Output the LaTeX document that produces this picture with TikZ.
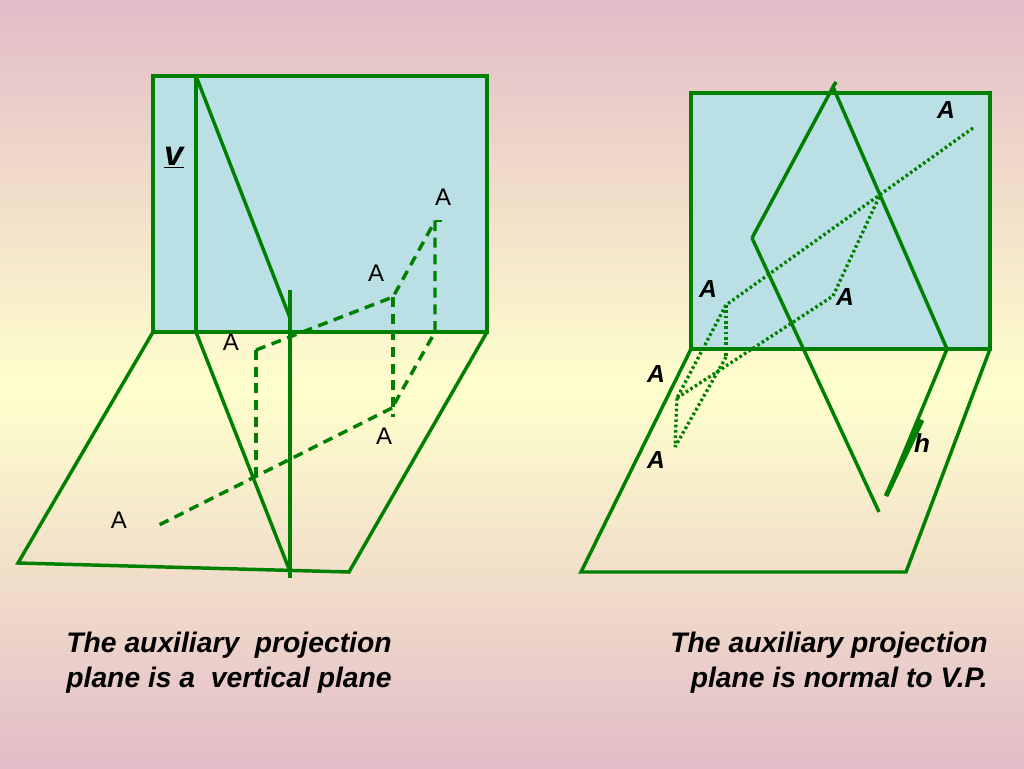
\documentclass[tikz,border=0pt]{standalone}
\usepackage{fontspec}
\setmainfont{Liberation Sans}
\usetikzlibrary{calc}
\definecolor{bgpink}{RGB}{226,188,200}
\definecolor{bgyellow}{RGB}{255,255,204}
\definecolor{ln}{RGB}{0,128,0}
\definecolor{vblue}{RGB}{186,223,228}
\begin{document}
\begin{tikzpicture}[x=0.75pt,y=-0.75pt,
  pl/.style={draw=ln,line width=2.6pt,line join=miter},
  dsh/.style={draw=ln,line width=2.6pt,dash pattern=on 7.5pt off 5pt},
  dtt/.style={draw=ln,line width=2.5pt,dash pattern=on 2pt off 2pt},
  lbl/.style={inner sep=0pt,font=\fontsize{18}{20}\selectfont},
  blbl/.style={inner sep=0pt,font=\fontsize{18.5}{20}\selectfont\bfseries\itshape},
  captxt/.style={inner sep=0pt,font=\fontsize{21.2}{26.25}\selectfont\bfseries\itshape}]
\useasboundingbox (0,0) rectangle (1024,768);
\shade[top color=bgpink,bottom color=bgyellow] (0,0) rectangle (1024,390);
\shade[top color=bgyellow,bottom color=bgpink] (0,390) rectangle (1024,768);
% ---------------- left figure ----------------
\coordinate (a1) at (153,76);
\coordinate (a2) at (487,76);
\coordinate (a3) at (487,332);
\coordinate (a4) at (153,332);
\coordinate (a5) at (18,563);
\coordinate (a6) at (349,572);
\coordinate (b1) at (196,76);
\coordinate (b2) at (196,332);
\coordinate (b3) at (290,318);
\coordinate (b4) at (289,569);
\coordinate (c1) at (290,290);
\coordinate (c2) at (290,578);
\draw[pl,fill=vblue] (a1) rectangle (a3);
\draw[pl] (a4) -- (a5) -- (a6) -- (a3);
\draw[pl] (b1) -- (b2);
\draw[pl] (b1) -- (b3);
\draw[pl] (b2) -- (b4);
\draw[pl] (c1) -- (c2);
% dashed projectors
\coordinate (d1) at (256,350);
\coordinate (d2) at (393,297);
\coordinate (d3) at (435,221);
\coordinate (d3t) at (442,221);
\coordinate (d4) at (435,332);
\coordinate (d5) at (392,408);
\coordinate (d6) at (393,417);
\coordinate (d7) at (155,527);
\coordinate (d8) at (256,477);
\draw[dsh] (d1) -- (d2) -- (d3);
\draw[pl,line width=2.2pt] (d3) -- (d3t);
\draw[dsh] (d3) -- (d4) -- (d5);
\draw[dsh] (d2) -- (d6);
\draw[dsh] (d5) -- (d7);
\draw[dsh] (d1) -- (d8);
\node[lbl] (lA1) at (443,197) {A};
\node[lbl] (lA2) at (376,273) {A};
\node[lbl] (lA3) at (231,342) {A};
\node[lbl] (lA4) at (384,436) {A};
\node[lbl] (lA5) at (119,520) {A};
\node[inner sep=0pt,font=\fontsize{26}{28}\selectfont\bfseries\itshape] (lv) at (174,158) {\underline{v}};
% ---------------- right figure ----------------
\coordinate (r1) at (691,93);
\coordinate (r3) at (990,349);
\coordinate (r4) at (691,349);
\coordinate (r5) at (581,572);
\coordinate (r6) at (906,572);
\coordinate (p0) at (833,87);
\coordinate (ptop) at (836,82);
\coordinate (p1) at (752,238);
\coordinate (p2) at (947,349);
\coordinate (p3) at (886,496);
\coordinate (p3a) at (922,420);
\coordinate (p4) at (879,512);
\draw[pl,fill=vblue] (r1) rectangle (r3);
\draw[pl] (r4) -- (r5) -- (r6) -- (r3);
\draw[pl] (p1) -- (p0) -- (p2) -- (p3);
\draw[pl] (p0) -- (ptop);
\draw[pl,line width=3.6pt] (p3a) -- (p3);
\draw[pl] (p1) -- (p4);
% dotted projectors
\coordinate (q1) at (973,128);
\coordinate (q2) at (726,305);
\coordinate (q3) at (677,398);
\coordinate (q4) at (726,357);
\coordinate (q5) at (675,447);
\coordinate (q6) at (833,296);
\coordinate (q7) at (880,195);
\draw[dtt] (q1) -- (q2);
\draw[dtt] (q2) -- (q3);
\draw[dtt] (q2) -- (q4);
\draw[dtt] (q4) -- (q5);
\draw[dtt] (q3) -- (q5);
\draw[dtt] (q3) -- (q6);
\draw[dtt] (q6) -- (q7);
\node[blbl] (rA1) at (946,110) {A};
\node[blbl] (rA2) at (708,289) {A};
\node[blbl] (rA3) at (845,297) {A};
\node[blbl] (rA4) at (656,374) {A};
\node[blbl] (rA5) at (656,460) {A};
\node[blbl,font=\fontsize{19.5}{20}\selectfont\bfseries\itshape] (rh) at (922,443) {h};
% ---------------- captions ----------------
\node[captxt,align=center] (capL) at (229,663) {The auxiliary\ \ projection\\plane is a\ \ vertical plane};
\node[captxt,align=right,anchor=east] (capR) at (988,663) {The auxiliary projection\\plane is normal to V.P.};
\end{tikzpicture}
\end{document}
